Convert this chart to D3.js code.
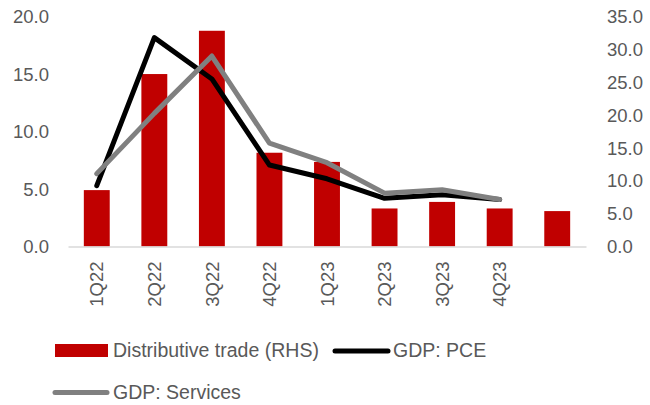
<!DOCTYPE html>
<html>
<head>
<meta charset="utf-8">
<script src="https://cdn.jsdelivr.net/npm/d3@7"></script>
<style>
  body { margin: 0; background: #fff; }
  svg { display: block; font-family: "Liberation Sans", Arial, sans-serif; }
  .tick text { fill: #595959; }
</style>
</head>
<body>
<svg id="chart" width="650" height="405"></svg>
<script>
// quarters (last one has no label in the source)
const quarters = ['1Q22', '2Q22', '3Q22', '4Q22', '1Q23', '2Q23', '3Q23', '4Q23', ''];
// bars, right axis
const distributiveTrade = [8.6, 26.3, 32.9, 14.3, 12.9, 5.8, 6.8, 5.8, 5.4];
// lines, left axis
const gdpPce = [5.3, 18.2, 14.6, 7.1, 5.9, 4.2, 4.5, 4.1];
const gdpServices = [6.35, 11.6, 16.6, 9.0, 7.3, 4.65, 4.95, 4.1];

const leftTicks = [0, 5, 10, 15, 20];
const rightTicks = [0, 5, 10, 15, 20, 25, 30, 35];

const svg = d3.select('#chart');
const margin = { top: 17, left: 68, right: 64 };
const width = 650 - margin.left - margin.right;
const baseY = 246.5;
const tickFont = 18.5;

const x = d3.scaleBand()
    .domain(d3.range(quarters.length))
    .range([margin.left, margin.left + width])
    .paddingInner(0.55)
    .paddingOuter(0.275);

const yLeft = d3.scaleLinear().domain([0, 20]).range([baseY, margin.top]);
const yRight = d3.scaleLinear().domain([0, 35]).range([baseY, margin.top]);

// left axis labels
svg.append('g')
    .attr('transform', `translate(${margin.left - 19},0)`)
    .call(d3.axisLeft(yLeft).tickValues(leftTicks).tickFormat(d3.format('.1f')).tickSize(0).tickPadding(0))
    .call(g => g.select('.domain').remove())
    .selectAll('text').attr('font-size', tickFont);

// right axis labels
svg.append('g')
    .attr('transform', `translate(${margin.left + width + 21},0)`)
    .call(d3.axisRight(yRight).tickValues(rightTicks).tickFormat(d3.format('.1f')).tickSize(0).tickPadding(0))
    .call(g => g.select('.domain').remove())
    .selectAll('text').attr('font-size', tickFont);

// bars
svg.append('g')
    .selectAll('rect')
    .data(distributiveTrade)
    .join('rect')
    .attr('x', (d, i) => x(i))
    .attr('width', x.bandwidth())
    .attr('y', d => yRight(d))
    .attr('height', d => baseY - yRight(d))
    .attr('fill', '#c00000');

// baseline + category labels
const xAxis = svg.append('g')
    .attr('transform', `translate(0,${baseY})`)
    .call(d3.axisBottom(x).tickFormat(i => quarters[i]).tickSize(0).tickPadding(0));
xAxis.select('.domain').attr('stroke', '#d9d9d9').attr('stroke-width', 1.5);
xAxis.selectAll('text')
    .attr('font-size', tickFont)
    .attr('transform', 'rotate(-90)')
    .attr('text-anchor', 'end')
    .attr('x', -15)
    .attr('y', 0)
    .attr('dy', '0.36em');

const line = d3.line()
    .x((d, i) => x(i) + x.bandwidth() / 2)
    .y(d => yLeft(d));

svg.append('path')
    .datum(gdpPce)
    .attr('d', line)
    .attr('fill', 'none')
    .attr('stroke', '#000')
    .attr('stroke-width', 5)
    .attr('stroke-linejoin', 'round')
    .attr('stroke-linecap', 'round');

svg.append('path')
    .datum(gdpServices)
    .attr('d', line)
    .attr('fill', 'none')
    .attr('stroke', '#808080')
    .attr('stroke-width', 5)
    .attr('stroke-linejoin', 'round')
    .attr('stroke-linecap', 'round');

// legend
const legend = svg.append('g').attr('font-size', 19.5).attr('fill', '#595959');

legend.append('rect')
    .attr('x', 55).attr('y', 344).attr('width', 53).attr('height', 13)
    .attr('fill', '#c00000');
legend.append('text').attr('x', 113).attr('y', 350.5).attr('dy', '0.35em')
    .text('Distributive trade (RHS)');

legend.append('line')
    .attr('x1', 335).attr('x2', 388).attr('y1', 351).attr('y2', 351)
    .attr('stroke', '#000').attr('stroke-width', 5).attr('stroke-linecap', 'round');
legend.append('text').attr('x', 393).attr('y', 350.5).attr('dy', '0.35em')
    .text('GDP: PCE');

legend.append('line')
    .attr('x1', 55).attr('x2', 107).attr('y1', 392.5).attr('y2', 392.5)
    .attr('stroke', '#808080').attr('stroke-width', 5).attr('stroke-linecap', 'round');
legend.append('text').attr('x', 113).attr('y', 392).attr('dy', '0.35em')
    .text('GDP: Services');
</script>
</body>
</html>
